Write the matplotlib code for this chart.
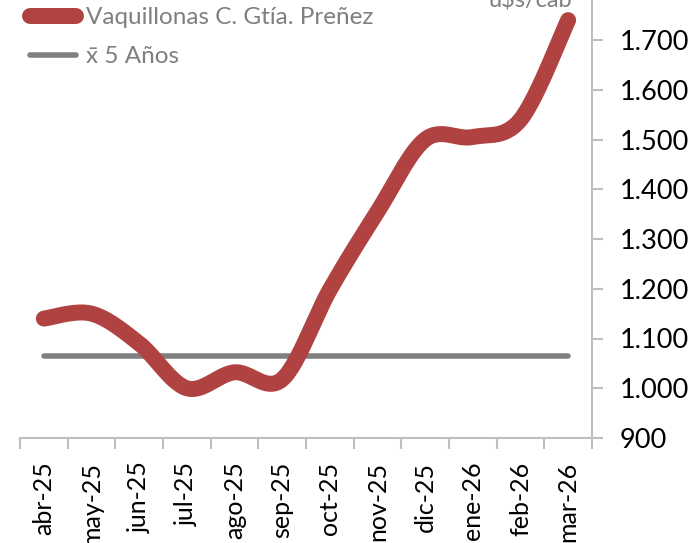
import numpy as np
import matplotlib.pyplot as plt
from matplotlib.ticker import FuncFormatter

plt.rcParams['font.family'] = ['Lato', 'DejaVu Sans']

# Data
months = ["abr-25", "may-25", "jun-25", "jul-25", "ago-25", "sep-25",
          "oct-25", "nov-25", "dic-25", "ene-26", "feb-26", "mar-26"]
vaquillonas = [1140, 1150, 1090, 1000, 1032, 1018, 1198, 1355, 1500, 1505, 1540, 1740]
avg_5y = [1065] * len(months)


def smooth(xs, ys, n=30):
    # Excel-like smoothed line (Catmull-Rom style bezier)
    pts = np.column_stack([xs, ys]).astype(float)
    out = []
    for i in range(len(pts) - 1):
        p0 = pts[i - 1] if i > 0 else pts[i]
        p1, p2 = pts[i], pts[i + 1]
        p3 = pts[i + 2] if i + 2 < len(pts) else pts[i + 1]
        c1 = p1 + (p2 - p0) / 6
        c2 = p2 - (p3 - p1) / 6
        t = np.linspace(0, 1, n)[:, None]
        seg = ((1 - t) ** 3) * p1 + 3 * ((1 - t) ** 2) * t * c1 + 3 * (1 - t) * t ** 2 * c2 + t ** 3 * p2
        out.append(seg if i == 0 else seg[1:])
    out = np.vstack(out)
    return out[:, 0], out[:, 1]


fig = plt.figure(figsize=(6.96, 5.43), dpi=100)
ax = fig.add_axes([20 / 696, 105 / 543, 572 / 696, 447.75 / 543])

x = np.arange(len(months))
sx, sy = smooth(x, vaquillonas)
ax.plot(sx, sy, color="#B04341", lw=11.5, solid_capstyle="round",
        label="Vaquillonas C. Gtía. Preñez", zorder=3)
ax.plot(x, avg_5y, color="#808080", lw=4, solid_capstyle="round",
        label="x\u0304 5 Años", zorder=2)

ax.set_xlim(-0.5, len(months) - 0.5)
ax.set_ylim(900, 1800)

# axes / spines
for s in ["left", "top"]:
    ax.spines[s].set_visible(False)
for s in ["bottom", "right"]:
    ax.spines[s].set_color("#BFBFBF")
    ax.spines[s].set_linewidth(1.5)

ax.set_xticks(np.arange(-0.5, len(months)), minor=False)
ax.set_xticklabels([])
ax.set_xticks(x, minor=True)
ax.set_xticklabels(months, minor=True, rotation=90, fontsize=18)
ax.tick_params(axis="x", which="major", length=8, color="#BFBFBF", width=1.5)
ax.tick_params(axis="x", which="minor", length=0, pad=17)

ax.yaxis.tick_right()
ax.set_yticks(np.arange(900, 1800, 100))
ax.yaxis.set_major_formatter(FuncFormatter(lambda v, p: f"{int(v):,}".replace(",", ".")))
ax.tick_params(axis="y", length=8, color="#BFBFBF", width=1.5, labelsize=19.5, pad=12)

ax.text(572 / 696, 1.0, "u$s/cab", transform=fig.transFigure, ha="right", va="center",
        color="#7F7F7F", fontsize=17)

leg = ax.legend(loc="upper left", bbox_to_anchor=(30 / 696, 1.0 - 7 / 543), bbox_transform=fig.transFigure,
                frameon=False, fontsize=17.5, labelcolor="#7F7F7F", handlelength=1.9,
                handletextpad=0.4, labelspacing=0.75, borderaxespad=0.0, borderpad=0.0)

fig.savefig("out.png", dpi=100)
